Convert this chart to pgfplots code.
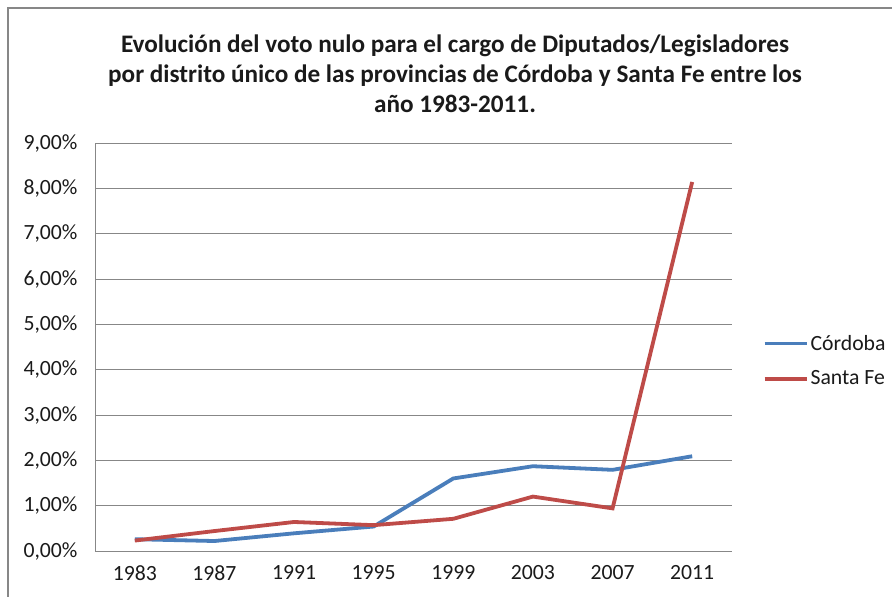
\documentclass[border=0pt]{standalone}
\usepackage{pgfplots}
\pgfplotsset{compat=1.18}
\usepackage{fontspec}
\setmainfont{Carlito}
\definecolor{cblue}{HTML}{4A7EBB}
\definecolor{cred}{HTML}{BE4B48}
\definecolor{cgrid}{HTML}{878787}
\definecolor{ctext}{HTML}{1A1A1A}
\begin{document}
\begin{tikzpicture}[x=1bp,y=1bp]
\path[use as bounding box] (0,0) rectangle (892,597);
\draw[cgrid, line width=1.5bp] (8,0) -- (8,589) -- (892,589);
\node[font=\fontsize{25.3}{30}\selectfont\bfseries, text=ctext, align=center, anchor=center] at (455,523) {Evolución del voto nulo para el cargo de Diputados/Legisladores\\por distrito único de las provincias de Córdoba y Santa Fe entre los\\año 1983-2011.};
\begin{axis}[
  at={(95bp,46bp)}, anchor=south west,
  scale only axis, width=637bp, height=408bp,
  xmin=-0.5, xmax=7.5, ymin=0, ymax=9,
  xtick={0,...,7}, xticklabels={1983,1987,1991,1995,1999,2003,2007,2011},
  ytick={0,...,9}, yticklabels={0{,}00\%,1{,}00\%,2{,}00\%,3{,}00\%,4{,}00\%,5{,}00\%,6{,}00\%,7{,}00\%,8{,}00\%,9{,}00\%},
  major tick length=0pt,
  ymajorgrids, grid style={cgrid, line width=0.9bp},
  axis x line*=bottom, axis y line*=left,
  axis line style={cgrid, line width=0.9bp},
  tick label style={font=\fontsize{21.8}{26}\selectfont, text=ctext},
  yticklabel style={xshift=-14bp},
  xticklabel style={yshift=-11bp},
  legend style={at={(1.048,0.466)}, anchor=west, draw=none, fill=none, font=\fontsize{21.8}{26}\selectfont, text=ctext, row sep=15bp, inner sep=0pt},
  legend cell align=left,
  legend image code/.code={\draw[#1, line width=3.8bp] (0bp,0bp) -- (42bp,0bp);},
  clip=false,
]
\addplot[cblue, line width=3.8bp] coordinates {(0,0.26) (1,0.22) (2,0.39) (3,0.54) (4,1.60) (5,1.87) (6,1.79) (7,2.09)};
\addlegendentry{Córdoba}
\addplot[cred, line width=3.8bp] coordinates {(0,0.23) (1,0.44) (2,0.64) (3,0.57) (4,0.71) (5,1.20) (6,0.94) (7,8.14)};
\addlegendentry{Santa Fe}
\end{axis}
\end{tikzpicture}
\end{document}
